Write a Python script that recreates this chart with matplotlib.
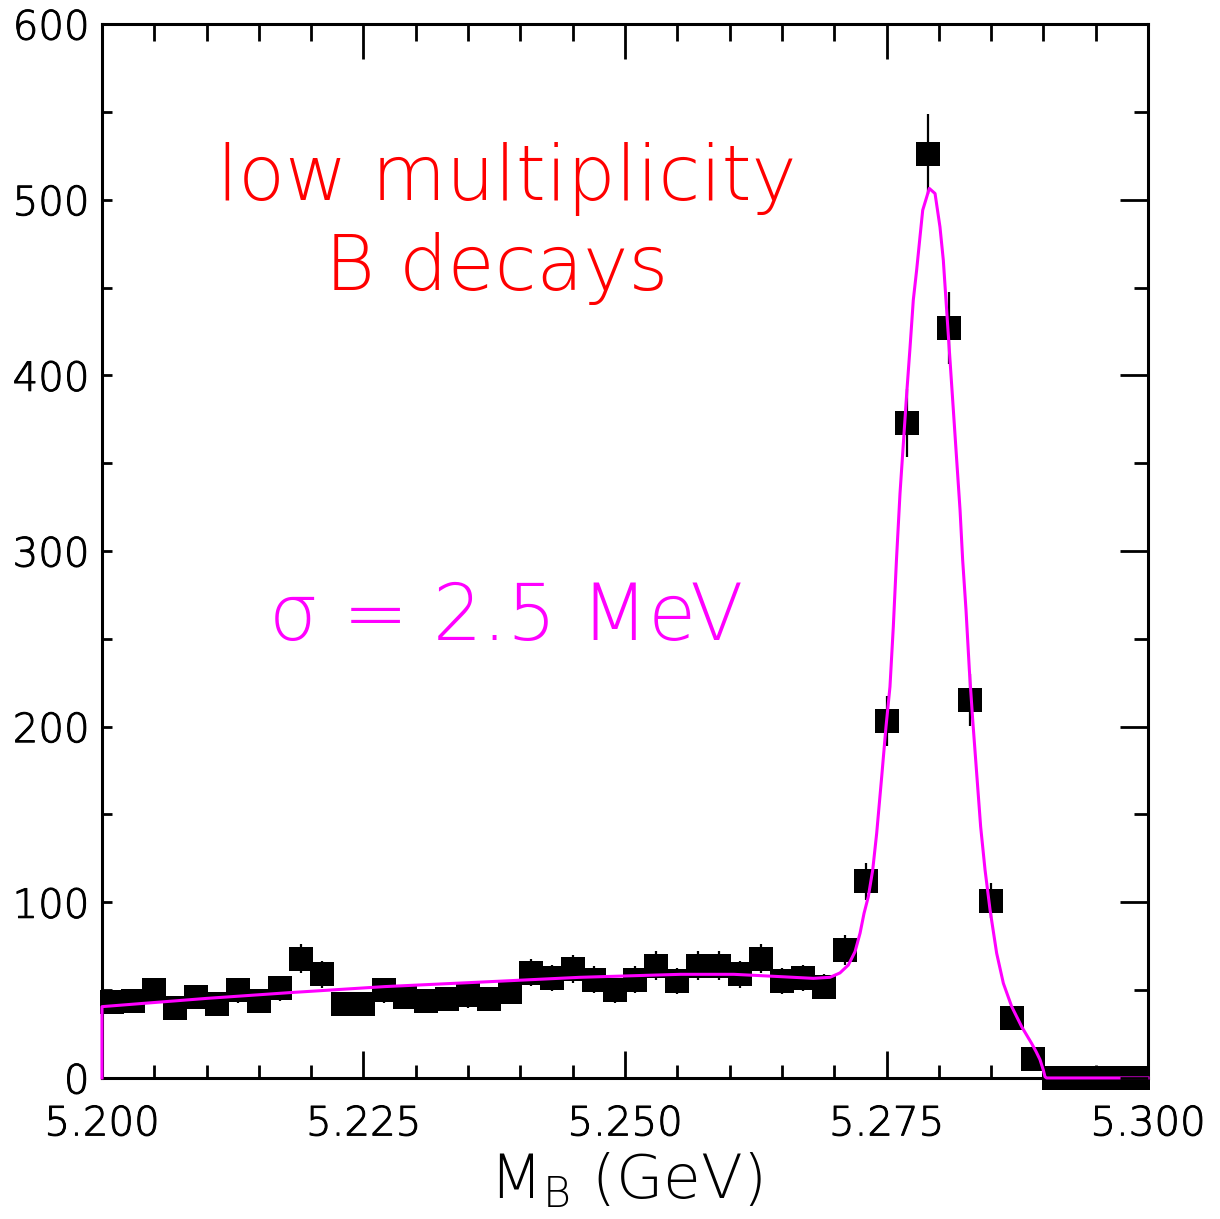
import matplotlib
matplotlib.use("Agg")
import matplotlib.pyplot as plt
import matplotlib.patheffects as pe
from matplotlib.ticker import MultipleLocator, FixedLocator

# ---- data ----
bin_centers = [5.201, 5.203, 5.205, 5.207, 5.209, 5.211, 5.213, 5.215, 5.217, 5.219,
               5.221, 5.223, 5.225, 5.227, 5.229, 5.231, 5.233, 5.235, 5.237, 5.239,
               5.241, 5.243, 5.245, 5.247, 5.249, 5.251, 5.253, 5.255, 5.257, 5.259,
               5.261, 5.263, 5.265, 5.267, 5.269, 5.271, 5.273, 5.275, 5.277, 5.279,
               5.281, 5.283, 5.285, 5.287, 5.289, 5.291, 5.293, 5.295, 5.297, 5.299]
counts = [43, 44, 50, 40, 46, 42, 50, 44, 51, 68,
          59, 42, 42, 50, 46, 44, 45, 47, 45, 49,
          60, 57, 62, 56, 50, 56, 64, 55, 64, 64,
          59, 68, 55, 57, 52, 73, 112, 203, 373, 526,
          427, 215, 101, 34, 11, 0, 0, 0, 0, 0]
errors = [6.6, 6.6, 7.1, 6.3, 6.8, 6.5, 7.1, 6.6, 7.1, 8.2,
          7.7, 6.5, 6.5, 7.1, 6.8, 6.6, 6.7, 6.9, 6.7, 7.0,
          7.7, 7.5, 7.9, 7.5, 7.1, 7.5, 8.0, 7.4, 8.0, 8.0,
          7.7, 8.2, 7.4, 7.5, 7.2, 8.5, 10.6, 14.2, 19.3, 22.9,
          20.7, 14.7, 10.0, 5.8, 3.3, 0, 0, 0, 0, 0]

# fitted curve (GeV, entries)
fit_x = [5.2000, 5.2000, 5.2100, 5.2180, 5.2270, 5.2370, 5.2457, 5.2553, 5.2604,
         5.2648, 5.2680, 5.2696, 5.27055, 5.27135, 5.27199, 5.27247, 5.27285,
         5.27326, 5.27368, 5.27406, 5.27454, 5.27495, 5.27533, 5.27565, 5.27595,
         5.27629, 5.27661, 5.27693, 5.27725, 5.27756, 5.27788, 5.27820, 5.27846,
         5.27909, 5.27964, 5.28011, 5.28043, 5.28075, 5.28107, 5.28139, 5.28171,
         5.28203, 5.28228, 5.28260, 5.28292, 5.28324, 5.28362, 5.28400, 5.28442,
         5.28490, 5.28553, 5.28617, 5.28697, 5.28792, 5.28887, 5.28930, 5.28967,
         5.28999, 5.29015, 5.29030, 5.30000]
fit_y = [0.0, 40.6, 45.3, 48.6, 52.0, 54.8, 57.3, 59.0, 59.0,
         57.7, 56.7, 57.3, 59.8, 64.3, 71.9, 82.4, 93.7,
         103.2, 118.4, 139.3, 171.5, 199.9, 222.7, 256.9, 294.8,
         332.8, 361.2, 389.7, 416.0, 442.8, 459.9, 478.8, 494.0,
         506.4, 503.5, 484.5, 465.6, 437.1, 408.6, 380.2, 351.7,
         323.3, 294.8, 266.4, 232.2, 203.8, 173.4, 143.0, 118.4,
         95.6, 71.0, 53.9, 40.6, 29.2, 19.7, 15.0, 10.5,
         4.5, 0.7, 0.0, 0.0]

x_ticks = [5.200, 5.225, 5.250, 5.275, 5.300]
x_tick_labels = ["5.200", "5.225", "5.250", "5.275", "5.300"]
y_ticks = [0, 100, 200, 300, 400, 500, 600]
y_tick_labels = ["0", "100", "200", "300", "400", "500", "600"]

FONT = ["DejaVu Sans", "Lato"]
W = 200  # DejaVu Sans ExtraLight
plt.rcParams["font.family"] = FONT
plt.rcParams["font.weight"] = W
plt.rcParams["mathtext.fontset"] = "custom"
plt.rcParams["mathtext.rm"] = "DejaVu Sans:weight=200"


def thick(color, w):
    return [pe.Stroke(linewidth=w, foreground=color), pe.Normal()]


fig = plt.figure(figsize=(12.2, 12.19), dpi=100)
ax = fig.add_axes([0.0836, 0.1157, 0.8574, 0.8646])

ax.errorbar(bin_centers, counts, yerr=errors, fmt="s", color="black",
            markersize=16.8, markeredgewidth=0, elinewidth=1.6, capsize=0,
            clip_on=False, zorder=3)
ax.plot(fit_x, fit_y, color="#ff00ff", lw=2.2, zorder=4, clip_on=False)

ax.set_xlim(5.200, 5.300)
ax.set_ylim(0, 600)

ax.xaxis.set_major_locator(FixedLocator(x_ticks))
ax.set_xticklabels(x_tick_labels, fontweight=W)
ax.xaxis.set_minor_locator(MultipleLocator(0.005))
ax.yaxis.set_major_locator(FixedLocator(y_ticks))
ax.set_yticklabels(y_tick_labels, fontweight=W)
ax.yaxis.set_minor_locator(MultipleLocator(50))

for s in ax.spines.values():
    s.set_linewidth(2.2)

ax.tick_params(axis="x", which="both", direction="in", top=False, bottom=True,
               width=2.0, labelsize=29, pad=19)
ax.tick_params(axis="x", which="major", length=19.5)
ax.tick_params(axis="x", which="minor", length=9.5)
ax.tick_params(axis="y", which="both", direction="in", left=True, right=False,
               width=2.0, labelsize=29, pad=9, length=7)

# secondary axes for the longer ticks on top and right
axt = ax.twiny()
axt.set_xlim(ax.get_xlim())
axt.xaxis.set_major_locator(FixedLocator(x_ticks))
axt.xaxis.set_minor_locator(MultipleLocator(0.005))
axt.tick_params(axis="x", which="both", direction="in", width=2.0,
                labeltop=False)
axt.tick_params(axis="x", which="major", length=25)
axt.tick_params(axis="x", which="minor", length=12)
axr = ax.twinx()
axr.set_ylim(ax.get_ylim())
axr.yaxis.set_major_locator(FixedLocator(y_ticks))
axr.yaxis.set_minor_locator(MultipleLocator(50))
axr.tick_params(axis="y", which="both", direction="in", width=2.0,
                labelright=False)
axr.tick_params(axis="y", which="major", length=20)
axr.tick_params(axis="y", which="minor", length=10)
for a in (axt, axr):
    for s in a.spines.values():
        s.set_visible(False)

for lab in ax.get_xticklabels() + ax.get_yticklabels():
    lab.set_path_effects(thick("black", 0.7))

xl = ax.set_xlabel(r"M$_{\mathrm{B}}$ (GeV)", fontsize=44, fontweight=W, labelpad=6)

t1 = ax.text(0.3867, 0.833, "low multiplicity", transform=ax.transAxes, color="#ff0000",
             fontsize=55, fontweight=W, ha="center", va="baseline")
t2 = ax.text(0.377, 0.7476, "B decays", transform=ax.transAxes, color="#ff0000",
             fontsize=55, fontweight=W, ha="center", va="baseline")
t3 = ax.text(0.3867, 0.4156, "σ = 2.5 MeV", transform=ax.transAxes, color="#ff00ff",
             fontsize=56, fontweight=W, ha="center", va="baseline")

fig.savefig("out.png", dpi=100)
